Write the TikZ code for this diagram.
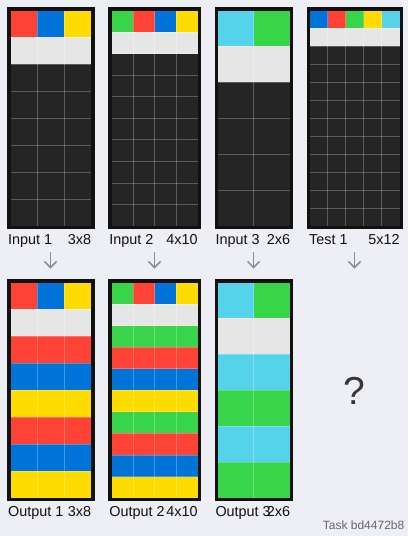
\documentclass[tikz,border=0pt]{standalone}
\usepackage{fontspec}
\setmainfont{Liberation Sans}
\usetikzlibrary{arrows.meta}
\definecolor{bgc}{HTML}{EEEEF5}
\definecolor{ar}{HTML}{FF4136}
\definecolor{ab}{HTML}{0074D9}
\definecolor{ay}{HTML}{FFDC00}
\definecolor{ag}{HTML}{38D44A}
\definecolor{ac}{HTML}{55D3EB}
\definecolor{aw}{HTML}{E6E6E6}
\definecolor{dk}{HTML}{252525}
\definecolor{frc}{HTML}{111111}
\definecolor{arrc}{HTML}{8C8C8C}
\definecolor{txc}{HTML}{111111}
\definecolor{tagc}{HTML}{666666}
\tikzset{
  gridline/.style={draw=white, draw opacity=0.25, line width=0.8pt},
  framebox/.style={draw=frc, line width=3.3pt, inner sep=0pt, outer sep=0pt},
  lbl/.style={font=\fontsize{14.4}{17}\selectfont, text=txc, inner sep=0pt},
  downarr/.style={draw=arrc, line width=1.5pt, -{Straight Barb[length=6pt,width=12pt]}},
}
\newcommand\arcgrid[6]{%
  \pgfmathsetmacro\cs{215.6/#4}%
  \pgfmathsetmacro\gw{#3*\cs}%
  \pgfmathsetmacro\gh{#4*\cs}%
  \pgfmathtruncatemacro\cm{#3-1}%
  \pgfmathtruncatemacro\rmm{#4-1}%
  \fill[dk] (#1,#2) rectangle ++(\gw,\gh);
  \foreach \cc [count=\i from 0] in {#5} {%
    \pgfmathtruncatemacro\cx{mod(\i,#3)}%
    \pgfmathtruncatemacro\cy{\i/#3}%
    \fill[\cc] ({#1+\cx*\cs},{#2+\cy*\cs}) rectangle ++(\cs,\cs);
  }
  \foreach \k in {1,...,\cm} {\draw[gridline] ({#1+\k*\cs},#2) -- ++(0,\gh);}
  \foreach \k in {1,...,\rmm} {\draw[gridline] (#1,{#2+\k*\cs}) -- ++(\gw,0);}
  \node[framebox, anchor=north west, minimum width={\gw pt+3.3pt}, minimum height={\gh pt+3.3pt}] (#6) at ({#1-1.65},{#2-1.65}) {};
}
\begin{document}
\begin{tikzpicture}[x=1pt,y=-1pt]
\useasboundingbox[fill=bgc] (0,0) rectangle (408,536);
% inputs
\arcgrid{10.5}{10.5}{3}{8}{ar,ab,ay,aw,aw,aw}{in1}
\arcgrid{111.6}{10.5}{4}{10}{ag,ar,ab,ay,aw,aw,aw,aw}{in2}
\arcgrid{217.8}{10.5}{2}{6}{ac,ag,aw,aw}{in3}
\arcgrid{309.8}{10.5}{5}{12}{ab,ar,ag,ay,ac,aw,aw,aw,aw,aw}{te1}
% outputs
\arcgrid{10.5}{282.5}{3}{8}{ar,ab,ay,aw,aw,aw,ar,ar,ar,ab,ab,ab,ay,ay,ay,ar,ar,ar,ab,ab,ab,ay,ay,ay}{ou1}
\arcgrid{111.6}{282.5}{4}{10}{ag,ar,ab,ay,aw,aw,aw,aw,ag,ag,ag,ag,ar,ar,ar,ar,ab,ab,ab,ab,ay,ay,ay,ay,ag,ag,ag,ag,ar,ar,ar,ar,ab,ab,ab,ab,ay,ay,ay,ay}{ou2}
\arcgrid{217.8}{282.5}{2}{6}{ac,ag,aw,aw,ac,ac,ag,ag,ac,ac,ag,ag}{ou3}
% labels
\node[lbl, anchor=base west] (l1) at (8.0,244.3) {Input 1};
\node[lbl, anchor=base east] (s1) at (91.3,244.3) {3x8};
\node[lbl, anchor=base west] (l2) at (109.2,244.3) {Input 2};
\node[lbl, anchor=base east] (s2) at (197.9,244.3) {4x10};
\node[lbl, anchor=base west] (l3) at (215.3,244.3) {Input 3};
\node[lbl, anchor=base east] (s3) at (290.3,244.3) {2x6};
\node[lbl, anchor=base west] (l4) at (309.0,244.3) {Test 1};
\node[lbl, anchor=base east] (s4) at (399.8,244.3) {5x12};
\node[lbl, anchor=base west] (m1) at (8.0,516.5) {Output 1};
\node[lbl, anchor=base east] (t1) at (91.3,516.5) {3x8};
\node[lbl, anchor=base west] (m2) at (109.2,516.5) {Output 2};
\node[lbl, anchor=base east] (t2) at (197.9,516.5) {4x10};
\node[lbl, anchor=base west] (m3) at (215.3,516.5) {Output 3};
\node[lbl, anchor=base east] (t3) at (290.3,516.5) {2x6};
% arrows
\coordinate (a1s) at (50.5,252); \coordinate (a1e) at (50.5,268.5);
\coordinate (a2s) at (154.5,252); \coordinate (a2e) at (154.5,268.5);
\coordinate (a3s) at (253.6,252); \coordinate (a3e) at (253.6,268.5);
\coordinate (a4s) at (354.5,252); \coordinate (a4e) at (354.5,268.5);
\draw[downarr] (a1s) -- (a1e);
\draw[downarr] (a2s) -- (a2e);
\draw[downarr] (a3s) -- (a3e);
\draw[downarr] (a4s) -- (a4e);
% unknown output
\node[font=\fontsize{39}{41}\selectfont, text=txc!85!white, inner sep=0pt] (q) at (354.5,390.5) {?};
\node[font=\fontsize{12}{14}\selectfont, text=tagc, inner sep=0pt, anchor=base east] (tag) at (404.5,529.3) {Task bd4472b8};
\end{tikzpicture}
\end{document}
